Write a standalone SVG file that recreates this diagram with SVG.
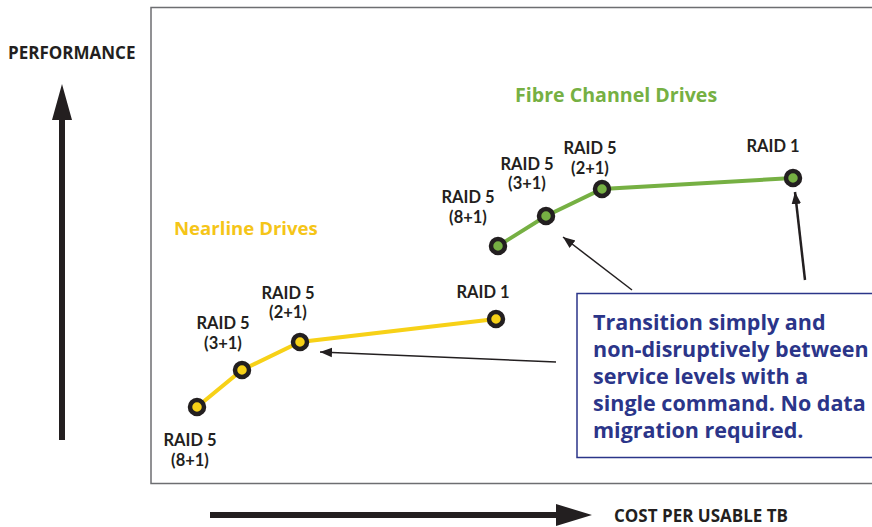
<svg xmlns="http://www.w3.org/2000/svg" width="872" height="527" viewBox="0 0 872 527">
<defs>
<style>
.lbl{font-family:Lato,"Open Sans",sans-serif;font-weight:bold;font-size:16.5px;fill:#231f20;text-anchor:middle}
.ax{font-family:"Open Sans","Noto Sans",sans-serif;font-weight:bold;font-size:17px;fill:#231f20}
.ttl{font-family:"Open Sans","Noto Sans",sans-serif;font-weight:bold}
.box{font-family:"Open Sans","Noto Sans",sans-serif;font-weight:bold;font-size:21.5px;fill:#2b3589}
.ptY{fill:#f7d117;stroke:#231f20;stroke-width:4.5}
.ptG{fill:#76b043;stroke:#231f20;stroke-width:4.5}
.thin{stroke:#231f20;stroke-width:1.5;fill:none}
</style>
<marker id="ah" viewBox="0 0 10 10" refX="10" refY="5" markerWidth="12" markerHeight="12" markerUnits="userSpaceOnUse" orient="auto">
<path d="M0,1 L10,5 L0,9 Z" fill="#231f20"/>
</marker>
</defs>
<rect x="0" y="0" width="872" height="527" fill="#fff"/>
<rect x="151" y="7.5" width="740" height="476" fill="none" stroke="#6d6e71" stroke-width="1.5"/>

<g id="axis-y">
<path d="M59,440 L59,120 L52,120 L62,84 L72,120 L65,120 L65,440 Z" fill="#231f20"/>
<text class="ax" x="8" y="59">PERFORMANCE</text>
</g>
<g id="axis-x">
<path d="M210,512 L556,512 L556,504 L592,515 L556,526 L556,518 L210,518 Z" fill="#231f20"/>
<text class="ax" x="614" y="522">COST PER USABLE TB</text>
</g>

<g id="connectors">
<polyline points="197,407 242,370 300,342 496,319" fill="none" stroke="#f7d117" stroke-width="4"/>
<polyline points="498,246 546,216 602,189 793,178" fill="none" stroke="#76b043" stroke-width="4"/>
<line class="thin" x1="556" y1="362" x2="320" y2="352" marker-end="url(#ah)"/>
<line class="thin" x1="632" y1="290" x2="563" y2="237" marker-end="url(#ah)"/>
<line x1="805" y1="280" x2="795" y2="192" stroke="#231f20" stroke-width="2.5" marker-end="url(#ah)"/>
</g>

<g id="nearline">
<text class="ttl" x="174" y="235" font-size="18.6" fill="#f5c518">Nearline Drives</text>
<g id="n-r58"><circle class="ptY" cx="197" cy="407" r="7"/><text class="lbl" x="190" y="446">RAID 5<tspan x="190" dy="20">(8+1)</tspan></text></g>
<g id="n-r53"><circle class="ptY" cx="242" cy="370" r="7"/><text class="lbl" x="223" y="329">RAID 5<tspan x="223" dy="20">(3+1)</tspan></text></g>
<g id="n-r52"><circle class="ptY" cx="300" cy="342" r="7"/><text class="lbl" x="288" y="299">RAID 5<tspan x="288" dy="19">(2+1)</tspan></text></g>
<g id="n-r1"><circle class="ptY" cx="496" cy="319" r="7"/><text class="lbl" x="483" y="298">RAID 1</text></g>
</g>

<g id="fibre">
<text class="ttl" x="515" y="102" font-size="19.6" fill="#76b043">Fibre Channel Drives</text>
<g id="f-r58"><circle class="ptG" cx="498" cy="246" r="7"/><text class="lbl" x="468" y="203">RAID 5<tspan x="468" dy="20">(8+1)</tspan></text></g>
<g id="f-r53"><circle class="ptG" cx="546" cy="216" r="7"/><text class="lbl" x="527" y="170">RAID 5<tspan x="527" dy="19">(3+1)</tspan></text></g>
<g id="f-r52"><circle class="ptG" cx="602" cy="189" r="7"/><text class="lbl" x="590" y="154">RAID 5<tspan x="590" dy="19.5">(2+1)</tspan></text></g>
<g id="f-r1"><circle class="ptG" cx="793" cy="178" r="7"/><text class="lbl" x="773" y="152">RAID 1</text></g>
</g>

<g id="note">
<rect x="577" y="293.5" width="310" height="164" fill="#fff" stroke="#2b3589" stroke-width="1.5"/>
<text class="box" x="593" y="330">Transition simply and<tspan x="593" dy="27">non-disruptively between</tspan><tspan x="593" dy="27">service levels with a</tspan><tspan x="593" dy="27">single command. No data</tspan><tspan x="593" dy="27">migration required.</tspan></text>
</g>
</svg>
